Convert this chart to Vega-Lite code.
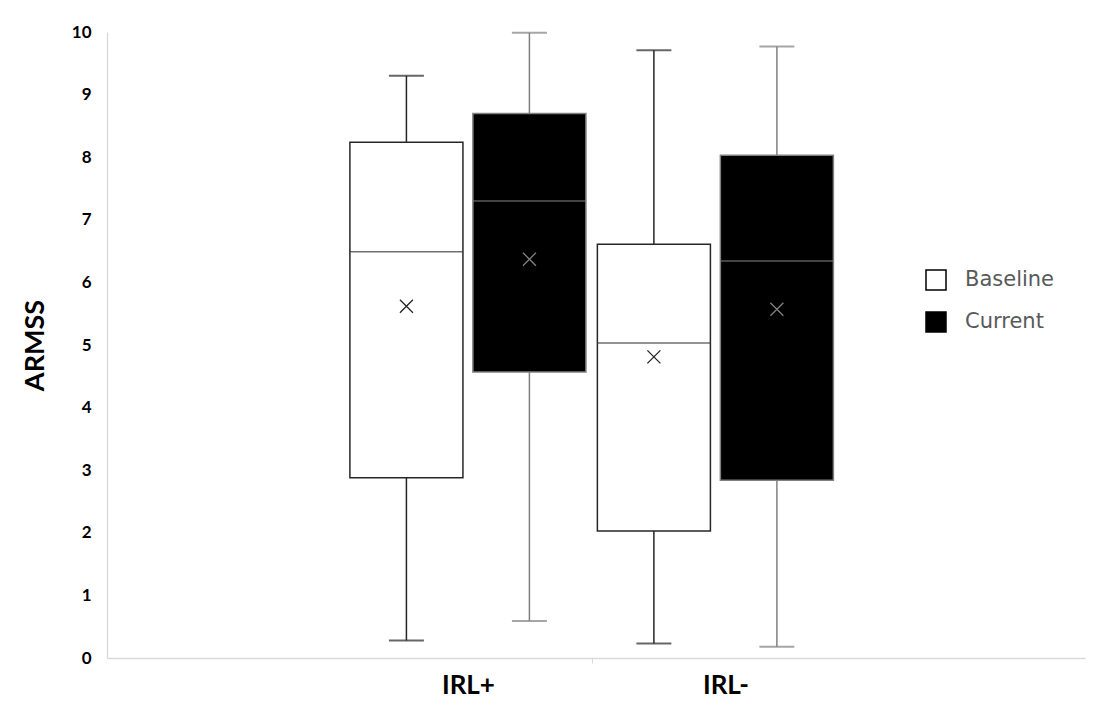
{
  "$schema": "https://vega.github.io/schema/vega-lite/v6.json",
  "width": 978,
  "height": 626,
  "autosize": {"type": "none"},
  "padding": {"left": 107, "top": 32, "right": 16, "bottom": 49},
  "background": "white",
  "config": {"view": {"stroke": null}, "font": "Lato"},
  "data": {
    "values": [
      {"group": "IRL+", "series": "Baseline", "min": 0.28, "q1": 2.88, "median": 6.49, "q3": 8.24, "max": 9.30, "mean": 5.62},
      {"group": "IRL+", "series": "Current", "min": 0.59, "q1": 4.57, "median": 7.30, "q3": 8.70, "max": 9.99, "mean": 6.37},
      {"group": "IRL-", "series": "Baseline", "min": 0.23, "q1": 2.03, "median": 5.03, "q3": 6.61, "max": 9.71, "mean": 4.81},
      {"group": "IRL-", "series": "Current", "min": 0.18, "q1": 2.84, "median": 6.34, "q3": 8.03, "max": 9.77, "mean": 5.57}
    ]
  },
  "encoding": {
    "x": {
      "field": "group",
      "type": "nominal",
      "sort": ["IRL+", "IRL-"],
      "scale": {"domain": ["IRL+", "IRL-"], "paddingInner": 0, "paddingOuter": 0.976, "align": 0.491},
      "axis": {
        "title": null,
        "labelAngle": 0,
        "labelFont": "Lato",
        "labelFontWeight": "bold",
        "labelFontSize": 26,
        "labelColor": "#000000",
        "labelPadding": 9,
        "labelOffset": {"condition": {"test": "datum.value === 'IRL-'", "value": 10}, "value": 0},
        "domainColor": "#d9d9d9",
        "domainWidth": 1.3,
        "tickBand": "extent",
        "tickColor": "#d9d9d9",
        "tickSize": 5,
        "tickOpacity": {"condition": {"test": "datum.value === 'IRL+'", "value": 1}, "value": 0},
        "grid": false
      }
    },
    "xOffset": {
      "field": "series",
      "type": "nominal",
      "scale": {"domain": ["Baseline", "Current"], "paddingInner": 0.081, "paddingOuter": 0.0465}
    }
  },
  "layer": [
    {
      "mark": {"type": "rule", "strokeWidth": 1.5},
      "encoding": {
        "y": {
          "field": "min",
          "type": "quantitative",
          "scale": {"domain": [0, 10], "nice": false},
          "axis": {
            "title": "ARMSS",
            "titleFont": "Lato",
            "titleFontWeight": "bold",
            "titleFontSize": 27,
            "titleColor": "#000000",
            "titlePadding": 22,
            "values": [0, 1, 2, 3, 4, 5, 6, 7, 8, 9, 10],
            "format": "d",
            "labelFont": "Lato",
            "labelFontWeight": "bold",
            "labelFontSize": 17,
            "labelColor": "#000000",
            "labelPadding": 16,
            "ticks": false,
            "grid": false,
            "domainColor": "#d9d9d9",
            "domainWidth": 1.3
          }
        },
        "y2": {"field": "max"},
        "color": {"condition": {"test": "datum.series === 'Baseline'", "value": "#262626"}, "value": "#808080"}
      }
    },
    {
      "mark": {"type": "bar", "strokeWidth": 1.5},
      "encoding": {
        "y": {"field": "q1", "type": "quantitative"},
        "y2": {"field": "q3"},
        "fill": {
          "field": "series",
          "type": "nominal",
          "scale": {"domain": ["Baseline", "Current"], "range": ["#ffffff", "#000000"]},
          "legend": {
            "title": null,
            "orient": "none",
            "legendX": 818,
            "legendY": 237,
            "symbolType": "square",
            "symbolSize": 400,
            "symbolStrokeColor": "#000000",
            "symbolStrokeWidth": 1.5,
            "labelFont": "DejaVu Sans",
            "labelFontSize": 21,
            "labelColor": "#595959",
            "labelOffset": 18,
            "rowPadding": 16,
            "padding": 0
          }
        },
        "stroke": {"condition": {"test": "datum.series === 'Baseline'", "value": "#262626"}, "value": "#808080"}
      }
    },
    {
      "mark": {"type": "tick", "size": 113, "thickness": 1.5},
      "encoding": {
        "y": {"field": "median", "type": "quantitative"},
        "color": {"condition": {"test": "datum.series === 'Baseline'", "value": "#333333"}, "value": "#808080"}
      }
    },
    {
      "mark": {"type": "tick", "size": 35, "thickness": 2},
      "encoding": {
        "y": {"field": "min", "type": "quantitative"},
        "color": {"condition": {"test": "datum.series === 'Baseline'", "value": "#262626"}, "value": "#808080"}
      }
    },
    {
      "mark": {"type": "tick", "size": 35, "thickness": 2},
      "encoding": {
        "y": {"field": "max", "type": "quantitative"},
        "color": {"condition": {"test": "datum.series === 'Baseline'", "value": "#262626"}, "value": "#808080"}
      }
    },
    {
      "mark": {"type": "point", "shape": "M-1,-1L1,1M-1,1L1,-1", "size": 169, "filled": false, "strokeWidth": 1.3, "opacity": 1},
      "encoding": {
        "y": {"field": "mean", "type": "quantitative"},
        "color": {"condition": {"test": "datum.series === 'Baseline'", "value": "#262626"}, "value": "#808080"}
      }
    }
  ]
}
